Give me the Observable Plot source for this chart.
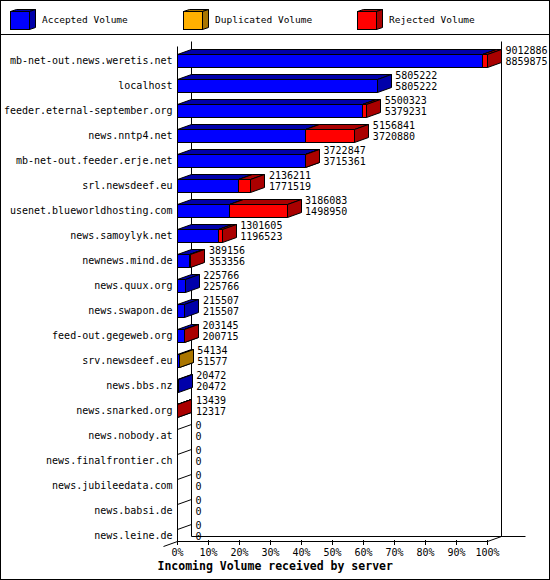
<!DOCTYPE html>
<html>
<head>
<meta charset="utf-8">
<script src="https://cdn.jsdelivr.net/npm/d3@7"></script>
<script src="https://cdn.jsdelivr.net/npm/@observablehq/plot@0.6"></script>
<style>
html, body { margin: 0; padding: 0; background: #fff; }
#wrap { position: relative; width: 550px; height: 580px; box-sizing: border-box; border: 1px solid #000; overflow: hidden; font-family: "DejaVu Sans Mono", monospace; background: #fff; }
#legend { position: relative; height: 33px; border-bottom: 1px solid #000; }
.item { position: absolute; top: 0; height: 33px; }
.item svg { position: absolute; left: 0; top: 7px; }
.item span { position: absolute; left: 32px; top: 13px; line-height: 12px; font-size: 9.5px; white-space: nowrap; color: #000; }
#chart svg { display: block; }
</style>
</head>
<body>
<div id="wrap">
  <div id="legend"></div>
  <div id="chart"></div>
</div>
<script>
// ---- data ----
const hosts = [
  "mb-net-out.news.weretis.net", "localhost", "feeder.eternal-september.org",
  "news.nntp4.net", "mb-net-out.feeder.erje.net", "srl.newsdeef.eu",
  "usenet.blueworldhosting.com", "news.samoylyk.net", "newnews.mind.de",
  "news.quux.org", "news.swapon.de", "feed-out.gegeweb.org", "srv.newsdeef.eu",
  "news.bbs.nz", "news.snarked.org", "news.nobody.at", "news.finalfrontier.ch",
  "news.jubileedata.com", "news.babsi.de", "news.leine.de"
];
const offered = [9012886, 5805222, 5500323, 5156841, 3722847, 2136211, 3186083, 1301605,
  389156, 225766, 215507, 203145, 54134, 20472, 13439, 0, 0, 0, 0, 0];
const accepted = [8859875, 5805222, 5379231, 3720880, 3715361, 1771519, 1498950, 1196523,
  353356, 225766, 215507, 200715, 51577, 20472, 12317, 0, 0, 0, 0, 0];
const duplicated = [0, 0, 0, 0, 0, 0, 0, 0, 0, 0, 0, 0, 2557, 0, 0, 0, 0, 0, 0, 0];
const xTicks = [0, 10, 20, 30, 40, 50, 60, 70, 80, 90, 100];
const seriesNames = ["Accepted Volume", "Duplicated Volume", "Rejected Volume"];
const axisTitle = "Incoming Volume received by server";

// ---- styles ----
const frontColors = ["#0000ff", "#ffb000", "#ff0000"];
const sideColors = ["#0000aa", "#aa7600", "#aa0000"];
const DX = 14, DY = -5;

const maxOff = d3.max(offered);
const rows = hosts.map((h, i) => {
  const rej = offered[i] - accepted[i] - duplicated[i];
  return {
    host: h, off: offered[i], acc: accepted[i],
    parts: [accepted[i], duplicated[i], rej].map(v => v / maxOff * 100),
    pOff: offered[i] / maxOff * 100
  };
});

// ---- legend ----
const legendX = [9, 182, 356];
const legend = d3.select("#legend");
seriesNames.forEach((name, k) => {
  const it = legend.append("div").attr("class", "item").style("left", legendX[k] + "px");
  const s = it.append("svg").attr("width", 28).attr("height", 23);
  const g = s.append("g").attr("transform", "translate(0.5,0.5)").attr("stroke", "#000");
  g.append("polygon").attr("points", "0,3 6,1 25,1 19,3").attr("fill", sideColors[k]);
  g.append("polygon").attr("points", "19,3 25,1 25,19 19,21").attr("fill", sideColors[k]);
  g.append("rect").attr("x", 0).attr("y", 3).attr("width", 19).attr("height", 18).attr("fill", frontColors[k]);
  it.append("span").text(name);
});

// ---- 3D bars & frame drawn through the plot's scales ----
function chart3d(index, scales) {
  const xs = scales.x, ys = scales.y;
  const g = d3.create("svg:g")
    .attr("transform", "translate(0.5,0.5)")
    .attr("stroke", "#000").attr("stroke-width", 1).attr("fill", "none");
  const X0 = Math.round(xs(0)), X1 = Math.round(xs(100));
  const yT = Math.round(ys(hosts[0]) - 14.5);
  const yF = Math.round(ys(hosts[hosts.length - 1]) + 5.5);
  const line = (a, b, c, d) => g.append("line").attr("x1", a).attr("y1", b).attr("x2", c).attr("y2", d);
  line(X0 + DX, yT + DY, X0 + DX, yF + DY);
  line(X1 + DX, yT + DY, X1 + DX, yF + DY);
  line(X0, yT, X0, yF);
  line(X0 + DX, yF + DY, X1 + DX + 24, yF + DY);
  g.append("path").attr("d", `M${X0 - DX},${yF - DY}L${X0},${yF}L${X1},${yF}L${X1 + DX},${yF + DY}`);
  const poly = (pts, fill) => g.append("polygon").attr("points", pts.map(p => p.join(",")).join(" ")).attr("fill", fill);
  rows.forEach(r => {
    const t = Math.round(ys(r.host) - 6.5), b = t + 13;
    if (r.pOff === 0) { line(X0, t, X0 + DX, t + DY); return; }
    let cum = 0;
    r.parts.forEach((v, k) => {
      if (v <= 0) return;
      const xa = Math.round(xs(cum)), xb = Math.round(xs(cum + v));
      cum += v;
      poly([[xa, t], [xb, t], [xb, b], [xa, b]], frontColors[k]);
      poly([[xa, t], [xa + DX, t + DY], [xb + DX, t + DY], [xb, t]], sideColors[k]);
      poly([[xb, t], [xb + DX, t + DY], [xb + DX, b + DY], [xb, b]], sideColors[k]);
    });
  });
  return g.node();
}

const plot = Plot.plot({
  width: 548,
  height: 544,
  marginLeft: 176,
  marginRight: 62,
  marginTop: 10,
  marginBottom: 39,
  style: { fontFamily: "'DejaVu Sans Mono', monospace", fontSize: "10px", background: "#fff", overflow: "visible" },
  x: { domain: [0, 100] },
  y: { type: "point", domain: hosts, range: [24.5, 499.5], padding: 0 },
  marks: [
    chart3d,
    Plot.axisY({ tickSize: 0, tickPadding: 5, label: null, fontSize: 10 }),
    Plot.axisX(xTicks, { tickSize: 5, tickPadding: 3, tickFormat: d => d + "%", label: null, fontSize: 10 }),
    Plot.text(rows, { x: "pOff", y: "host", text: d => String(d.off), dx: 18, dy: -9.5, textAnchor: "start", lineAnchor: "middle", fontSize: 10 }),
    Plot.text(rows, { x: "pOff", y: "host", text: d => String(d.acc), dx: 18, dy: 1.5, textAnchor: "start", lineAnchor: "middle", fontSize: 10 }),
    Plot.text([axisTitle], { frameAnchor: "bottom-left", dx: -20, dy: 26, textAnchor: "start", lineAnchor: "middle", fontWeight: "bold", fontSize: 11.5 })
  ]
});
document.getElementById("chart").appendChild(plot);
</script>
</body>
</html>
